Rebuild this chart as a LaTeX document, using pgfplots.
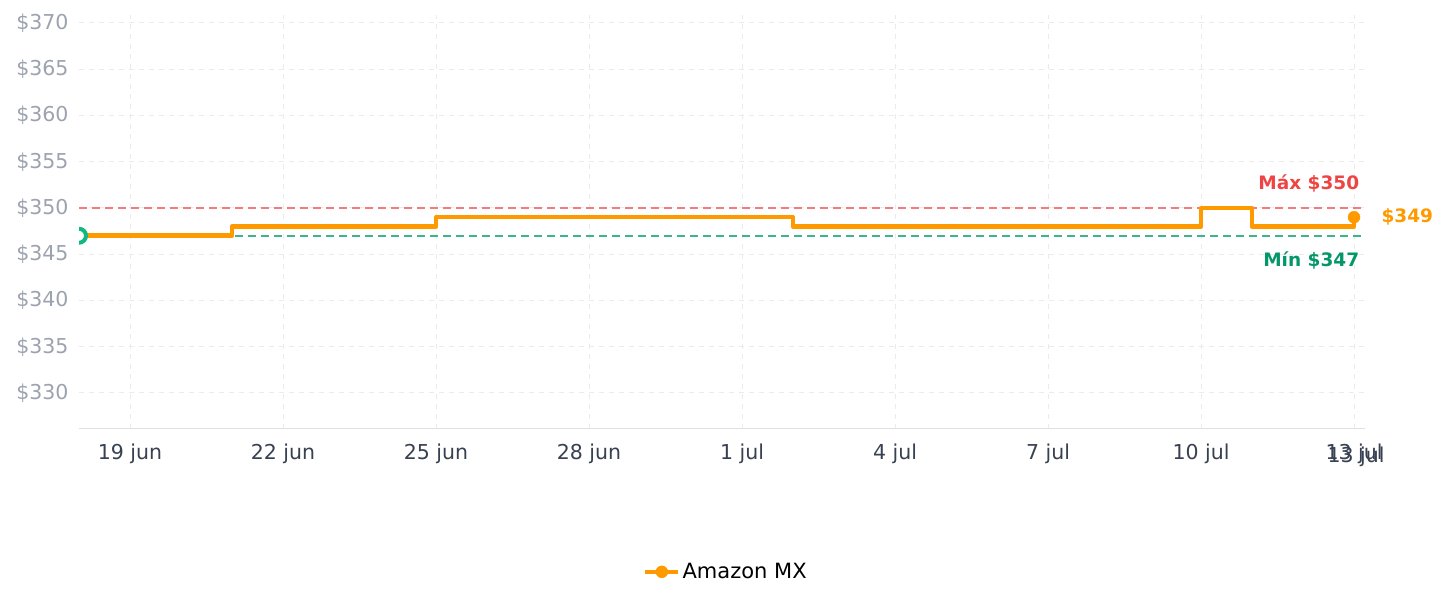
\documentclass[border=0pt]{standalone}
\usepackage{fontspec}
\setmainfont{DejaVu Sans}
\usepackage{pgfplots}
\pgfplotsset{compat=1.18}
\definecolor{amz}{HTML}{FF9900}
\definecolor{ytc}{HTML}{9CA3AF}
\definecolor{xtc}{HTML}{374151}
\definecolor{gridc}{HTML}{EBEBEB}
\definecolor{maxc}{HTML}{EF4444}
\definecolor{maxline}{HTML}{F27C7C}
\definecolor{mingreen}{HTML}{10B981}
\definecolor{minline}{HTML}{3DB58C}
\definecolor{minlab}{HTML}{059669}
\begin{document}
\begin{tikzpicture}[x=1pt,y=1pt]
\useasboundingbox (0,0) rectangle (1447,607);
\begin{axis}[
  at={(79pt,178pt)}, anchor=south west,
  scale only axis, width=1286pt, height=414pt,
  xmin=0, xmax=25.216, ymin=326.108, ymax=370.865,
  xtick={1,4,7,10,13,16,19,22,25},
  xticklabels={19 jun,22 jun,25 jun,28 jun,1 jul,4 jul,7 jul,10 jul,13 jul},
  ytick={330,335,340,345,350,355,360,365,370},
  yticklabels={\$330,\$335,\$340,\$345,\$350,\$355,\$360,\$365,\$370},
  separate axis lines,
  axis x line*=bottom, axis y line*=left,
  x axis line style={draw=gray!25, line width=1pt, -},
  y axis line style={draw=none, -},
  major tick length=0pt,
  grid=major,
  grid style={dash pattern=on 5pt off 5pt, gridc, line width=1pt},
  xticklabel style={font=\fontsize{20.5}{20.5}\selectfont, text=xtc, yshift=-11pt},
  yticklabel style={font=\fontsize{20.5}{20.5}\selectfont, text=ytc, xshift=-7pt},
  clip mode=individual, clip marker paths=true,
  legend style={at={(0.503,-0.345)}, anchor=center, draw=none, fill=none,
    font=\fontsize{21}{21}\selectfont, legend cell align=left},
  legend image code/.code={\draw[amz, line width=4.5pt] (0pt,0pt) -- (33pt,0pt);
    \fill[amz] (16.5pt,0pt) circle (6pt);},
]
\addplot[forget plot, mark=none, color=minline, solid, line width=1.6pt, dash pattern=on 8pt off 5pt] coordinates {(0,347) (25.216,347)};
\addplot[forget plot, mark=none, color=maxline, solid, line width=1.5pt, dash pattern=on 8pt off 5pt] coordinates {(0,350) (25.216,350)};
\addplot[forget plot, mark=none, const plot, color=amz, line width=4.5pt, line join=round] coordinates {
  (0,347) (3,348) (7,349) (14,348) (22,350) (23,348) (25,349)};
\addplot[forget plot, only marks, mark=*, mark size=7pt, mark options={draw=mingreen, fill=white, line width=4pt}] coordinates {(0,347)};
\addplot[forget plot, only marks, mark=*, mark size=6pt, mark options={draw=amz, fill=amz}] coordinates {(25,349)};
\addlegendimage{amz}
\addlegendentry{Amazon MX}
\node[anchor=east, text=maxc, font=\fontsize{18.5}{18.5}\selectfont\bfseries] at (axis cs:25.17,352.6) {Máx \$350};
\node[anchor=east, text=minlab, font=\fontsize{18.5}{18.5}\selectfont\bfseries] at (axis cs:25.17,344.38) {Mín \$347};
\node[anchor=west, text=amz, font=\fontsize{18.5}{18.5}\selectfont\bfseries] at (axis cs:25.47,349) {\$349};
\end{axis}
\node[text=xtc, font=\fontsize{20.5}{20.5}\selectfont] at (1356,150) {13 jul};
\end{tikzpicture}
\end{document}
